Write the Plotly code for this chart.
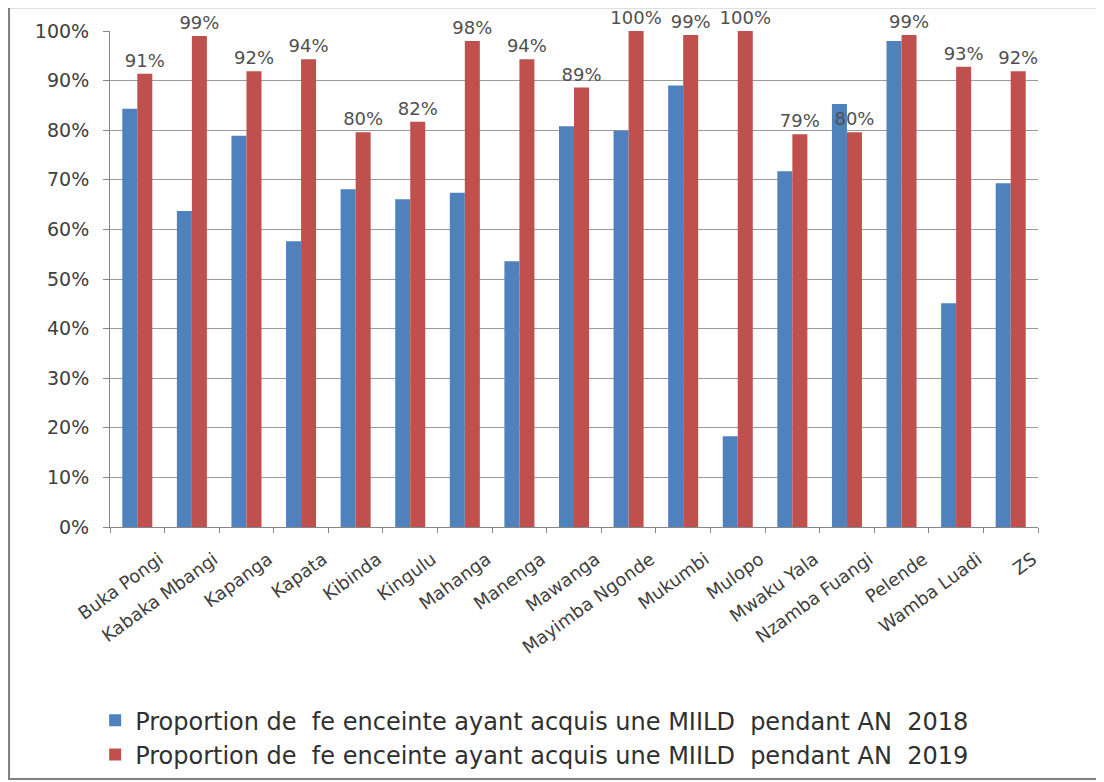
import plotly.graph_objects as go

categories = ["Buka Pongi", "Kabaka Mbangi", "Kapanga", "Kapata", "Kibinda", "Kingulu",
              "Mahanga", "Manenga", "Mawanga", "Mayimba Ngonde", "Mukumbi", "Mulopo",
              "Mwaku Yala", "Nzamba Fuangi", "Pelende", "Wamba Luadi", "ZS"]
values_2018 = [0.843, 0.637, 0.789, 0.576, 0.681, 0.661, 0.674, 0.536, 0.808, 0.799,
               0.890, 0.183, 0.717, 0.853, 0.980, 0.451, 0.693]
values_2019 = [0.914, 0.990, 0.919, 0.943, 0.796, 0.817, 0.980, 0.943, 0.886, 1.000,
               0.992, 1.000, 0.792, 0.796, 0.992, 0.928, 0.919]
labels_2019 = ["91%", "99%", "92%", "94%", "80%", "82%", "98%", "94%", "89%", "100%",
               "99%", "100%", "79%", "80%", "99%", "93%", "92%"]
y_ticks = [0, 0.1, 0.2, 0.3, 0.4, 0.5, 0.6, 0.7, 0.8, 0.9, 1.0]
y_ticktext = ["0%", "10%", "20%", "30%", "40%", "50%", "60%", "70%", "80%", "90%", "100%"]
name_2018 = "Proportion de\u00a0 fe enceinte ayant acquis une MIILD\u00a0 pendant AN\u00a0 2018"
name_2019 = "Proportion de\u00a0 fe enceinte ayant acquis une MIILD\u00a0 pendant AN\u00a0 2019"

FONT = "DejaVu Sans"
TXT = "#404040"

fig = go.Figure()
fig.add_trace(go.Bar(x=categories, y=values_2018, name=name_2018,
                     marker=dict(color="#4F81BD", line=dict(width=0))))
fig.add_trace(go.Bar(x=categories, y=values_2019, name=name_2019,
                     marker=dict(color="#C0504D", line=dict(width=0)),
                     text=labels_2019, textposition="outside", cliponaxis=False,
                     constraintext="none",
                     textfont=dict(family=FONT, size=18, color="#505050")))

fig.update_layout(
    width=1104, height=782,
    margin=dict(l=102, r=74, t=23, b=263, autoexpand=False),
    paper_bgcolor="white", plot_bgcolor="white",
    barmode="group", bargap=0.45, bargroupgap=0,
    font=dict(family=FONT, color=TXT),
    showlegend=True,
    legend=dict(orientation="v", x=-0.016, xanchor="left", y=-0.345, yanchor="top",
                font=dict(family=FONT, size=24, color="#303030"),
                tracegroupgap=0, itemwidth=30),
    xaxis=dict(type="category", tickangle=-36, tickfont=dict(family=FONT, size=18, color=TXT),
               showline=True, linecolor="#868686", linewidth=1,
               ticks="outside", tickson="boundaries", ticklen=5, tickcolor="#868686",
               showgrid=False, automargin=False, ticklabelstandoff=14, ticklabelshift=22),
    yaxis=dict(range=[0, 1.0], tickvals=y_ticks, ticktext=y_ticktext,
               tickfont=dict(family=FONT, size=19, color=TXT),
               showline=True, linecolor="#868686", linewidth=1,
               ticks="outside", ticklen=6, tickcolor="#868686", ticklabelstandoff=10,
               showgrid=True, gridcolor="#9A9A9A", gridwidth=1, zeroline=False,
               automargin=False),
    shapes=[dict(type="rect", xref="paper", yref="paper",
                 x0=-0.1088, x1=1.069, y0=-0.508, y1=1.048,
                 line=dict(color="#808080", width=2), fillcolor="rgba(0,0,0,0)", layer="below")],
)

fig.write_html("out.html")
